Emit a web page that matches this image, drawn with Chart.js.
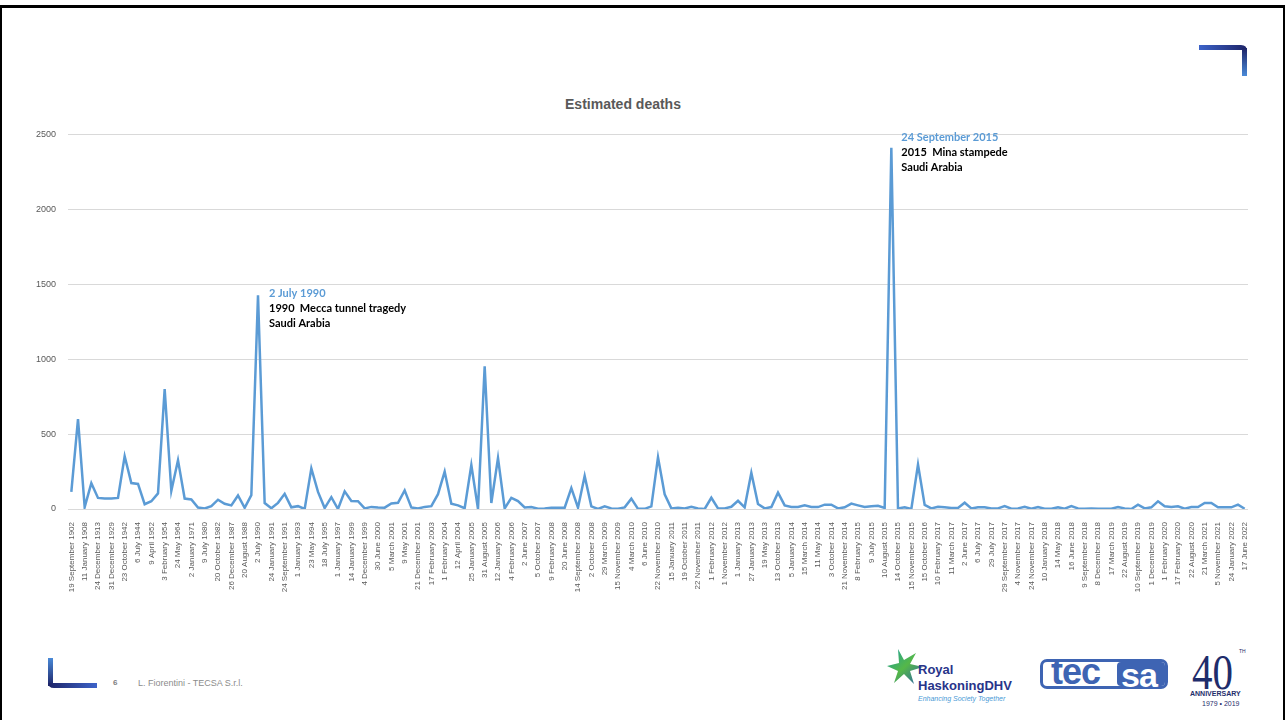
<!DOCTYPE html>
<html>
<head>
<meta charset="utf-8">
<title>Estimated deaths</title>
<script src="https://cdn.jsdelivr.net/npm/chart.js@4.4.1/dist/chart.umd.min.js"></script>
<style>
  html, body { margin: 0; padding: 0; background: #fff; }
  #slide {
    position: relative; width: 1285px; height: 720px; overflow: hidden;
    background: #fff; font-family: "Liberation Sans", Arial, sans-serif;
  }
  #frame {
    position: absolute; left: 0; top: 5px; width: 1285px; height: 720px;
    border-top: 3px solid #000; border-left: 2px solid #000; border-right: 2px solid #000;
    box-sizing: border-box;
  }
  #chartBox { position: absolute; left: 0; top: 117px; width: 1285px; height: 493px; }
  #title {
    position: absolute; left: 0; top: 96px; width: 1246px; text-align: center;
    font: bold 14px "Liberation Sans", Arial, sans-serif; color: #595959;
  }
  .abs { position: absolute; white-space: nowrap; }
  #pageNo { left: 113px; top: 678px; font: bold 8px "Liberation Sans", Arial, sans-serif; color: #808080; }
  #author { left: 138px; top: 678px; font: 9px "Liberation Sans Narrow", "Liberation Sans", Arial, sans-serif; color: #8c8c8c; }
  #rhRoyal { left: 918px; top: 662px; font: bold 13px "Liberation Sans Narrow", "Liberation Sans", sans-serif; color: #28348a; }
  #rhName { left: 918px; top: 678px; font: bold 13px "Liberation Sans Narrow", "Liberation Sans", sans-serif; color: #28348a; }
  #rhTag { left: 918px; top: 695px; font: italic 7px "Liberation Sans", sans-serif; color: #4a9ad6; }
  #tecsa {
    left: 1040px; top: 659px; width: 128px; height: 30px; border: 3px solid #3e64b3;
    border-radius: 7px; box-sizing: border-box;
  }
  #tecWord {
    left: 1051px; top: 651px; font: bold 36px "Liberation Sans Narrow", "Liberation Sans", sans-serif;
    color: #3e64b3; letter-spacing: -1px;
  }
  #saBox {
    left: 1117px; top: 662px; width: 48px; height: 24px; background: #3e64b3; border-radius: 4px;
  }
  #saWord {
    left: 1121px; top: 656px; font: bold 34px "Liberation Sans Narrow", "Liberation Sans", sans-serif;
    color: #fff; letter-spacing: -1px;
  }
  #forty {
    left: 1192px; top: 643px; font: 50px "Liberation Serif", serif; color: #1f2d6b;
    transform: scaleX(0.82); transform-origin: left top;
  }
  #th { left: 1239px; top: 648px; font: 5px "Liberation Sans", sans-serif; color: #1f2d6b; }
  #anniv { left: 1190px; top: 690px; font: bold 7px "Liberation Sans Narrow", "Liberation Sans", sans-serif; color: #1f2d6b; }
  #years { left: 1202px; top: 700px; font: 7px "Liberation Sans Narrow", "Liberation Sans", sans-serif; color: #1f2d6b; }
</style>
</head>
<body>
<div id="slide">
  <div id="frame"></div>

  <!-- corner brackets -->
  <svg class="abs" style="left:1196px; top:42px" width="56" height="38">
    <defs>
      <linearGradient id="trH" x1="0" y1="0" x2="1" y2="0">
        <stop offset="0" stop-color="#3d63c9"/><stop offset="1" stop-color="#1d2468"/>
      </linearGradient>
      <linearGradient id="trV" x1="0" y1="0" x2="0" y2="1">
        <stop offset="0" stop-color="#1d2468"/><stop offset="1" stop-color="#4a8ad8"/>
      </linearGradient>
    </defs>
    <path d="M3 3 H45 Q51 3 51 9 V8 H46 V8 H3 Z" fill="url(#trH)"/>
    <rect x="46" y="6" width="5" height="28" fill="url(#trV)"/>
  </svg>
  <svg class="abs" style="left:45px; top:655px" width="56" height="38">
    <defs>
      <linearGradient id="blV" x1="0" y1="0" x2="0" y2="1">
        <stop offset="0" stop-color="#4a8ad8"/><stop offset="1" stop-color="#1d2468"/>
      </linearGradient>
      <linearGradient id="blH" x1="0" y1="0" x2="1" y2="0">
        <stop offset="0" stop-color="#1d2468"/><stop offset="1" stop-color="#3d63c9"/>
      </linearGradient>
    </defs>
    <rect x="3" y="3" width="5" height="28" fill="url(#blV)"/>
    <path d="M3 28 H52 V33 H9 Q3 33 3 27 Z" fill="url(#blH)"/>
  </svg>

  <div id="title">Estimated deaths</div>
  <div id="chartBox"><canvas id="chart" width="1285" height="493"></canvas></div>

  <div id="pageNo" class="abs">6</div>
  <div id="author" class="abs">L. Fiorentini - TECSA S.r.l.</div>

  <!-- partner logos -->
  <svg class="abs" style="left:886px; top:647px" width="40" height="40">
    <defs>
      <linearGradient id="star" x1="0" y1="0" x2="1" y2="1">
        <stop offset="0" stop-color="#1b9fa0"/><stop offset="0.5" stop-color="#55b848"/><stop offset="1" stop-color="#2a5db0"/>
      </linearGradient>
    </defs>
    <path d="M12 2 L18 13 L30 6 L24 17 L37 20 L24 24 L28 37 L18 27 L8 36 L12 24 L1 19 L13 16 Z" fill="url(#star)"/>
  </svg>
  <div id="rhRoyal" class="abs">Royal</div>
  <div id="rhName" class="abs">HaskoningDHV</div>
  <div id="rhTag" class="abs">Enhancing Society Together</div>

  <div id="tecsa" class="abs"></div>
  <div id="saBox" class="abs"></div>
  <div id="tecWord" class="abs">tec</div>
  <div id="saWord" class="abs">sa</div>

  <div id="forty" class="abs">40</div>
  <div id="th" class="abs">TH</div>
  <div id="anniv" class="abs">ANNIVERSARY</div>
  <div id="years" class="abs">1979 • 2019</div>
</div>

<script>
// every other event date is printed under the axis
const tickDates = [
  "19 September 1902", "11 January 1908", "24 December 1913", "31 December 1929",
  "23 October 1942", "6 July 1944", "9 April 1952", "3 February 1954", "24 May 1964",
  "2 January 1971", "9 July 1980", "20 October 1982", "26 December 1987", "20 August 1988",
  "2 July 1990", "24 January 1991", "24 September 1991", "1 January 1993", "23 May 1994",
  "18 July 1995", "1 January 1997", "14 January 1999", "4 December 1999", "30 June 2000",
  "5 March 2001", "9 May 2001", "21 December 2001", "17 February 2003", "1 February 2004",
  "12 April 2004", "25 January 2005", "31 August 2005", "12 January 2006", "4 February 2006",
  "2 June 2007", "5 October 2007", "9 February 2008", "20 June 2008", "14 September 2008",
  "2 October 2008", "29 March 2009", "15 November 2009", "4 March 2010", "6 June 2010",
  "22 November 2010", "15 January 2011", "19 October 2011", "22 November 2011",
  "1 February 2012", "1 November 2012", "1 January 2013", "27 January 2013", "19 May 2013",
  "13 October 2013", "5 January 2014", "15 March 2014", "11 May 2014", "3 October 2014",
  "21 November 2014", "8 February 2015", "9 July 2015", "10 August 2015", "14 October 2015",
  "15 November 2015", "15 October 2016", "10 February 2017", "11 March 2017", "2 June 2017",
  "6 July 2017", "29 July 2017", "29 September 2017", "4 November 2017", "24 November 2017",
  "10 January 2018", "14 May 2018", "16 June 2018", "9 September 2018", "8 December 2018",
  "17 March 2019", "22 August 2019", "10 September 2019", "1 December 2019",
  "1 February 2020", "17 February 2020", "22 August 2020", "21 March 2021",
  "5 November 2021", "24 January 2022", "17 June 2022"
];

// dates known for points that have no printed tick
const otherDates = { 123: "24 September 2015" };

const deaths = [
  115, 600, 12, 172, 74, 70, 70, 74, 352, 173,
  167, 32, 52, 104, 800, 122, 326, 70, 64, 10,
  3, 19, 62, 35, 24, 90, 8, 93, 1426, 40,
  5, 41, 101, 11, 19, 0, 271, 114, 6, 79,
  0, 118, 53, 52, 4, 14, 10, 9, 37, 41,
  124, 10, 3, 14, 19, 99, 250, 35, 24, 5,
  293, 0, 953, 40, 340, 4, 75, 53, 10, 13,
  2, 3, 9, 9, 9, 140, 9, 220, 18, 0,
  18, 4, 2, 11, 69, 1, 1, 18, 345, 98,
  4, 9, 4, 14, 4, 0, 75, 4, 4, 15,
  55, 11, 242, 33, 4, 13, 109, 24, 13, 13,
  24, 13, 13, 29, 29, 4, 11, 36, 24, 13,
  18, 22, 7, 2411, 4, 11, 0, 297, 27, 4,
  15, 11, 7, 7, 42, 4, 11, 11, 4, 4,
  20, 2, 4, 15, 2, 13, 2, 2, 11, 2,
  20, 4, 2, 4, 1, 1, 2, 13, 4, 0,
  29, 4, 11, 51, 18, 13, 18, 2, 13, 13,
  40, 40, 11, 11, 11, 29, 2
];

const yTicks = [0, 500, 1000, 1500, 2000, 2500];

const notes = [
  { index: 28, date: "2 July 1990", lines: ["1990  Mecca tunnel tragedy", "Saudi Arabia"] },
  { index: 123, date: "24 September 2015", lines: ["2015  Mina stampede", "Saudi Arabia"] }
];
// where each note sits relative to its point
const noteOffsets = [ { dx: 11, dy: -2 }, { dx: 10, dy: -10 } ];

const categories = deaths.map((_, i) =>
  i % 2 === 0 ? tickDates[i / 2] : (otherDates[i] || "")
);

const blue = "#5b9bd5";

const notePlugin = {
  id: "notes",
  afterDatasetsDraw(chart) {
    const { ctx, scales } = chart;
    ctx.save();
    ctx.textAlign = "left";
    ctx.textBaseline = "middle";
    notes.forEach((note, n) => {
      const x = scales.x.getPixelForValue(note.index) + noteOffsets[n].dx;
      const y = scales.y.getPixelForValue(deaths[note.index]) + noteOffsets[n].dy;
      ctx.font = "bold 11px Lato, 'Liberation Sans', sans-serif";
      ctx.fillStyle = blue;
      ctx.fillText(note.date, x, y);
      ctx.fillStyle = "#000";
      note.lines.forEach((line, k) => ctx.fillText(line, x, y + 15 * (k + 1)));
    });
    ctx.restore();
  }
};

new Chart(document.getElementById("chart"), {
  type: "line",
  data: {
    labels: categories,
    datasets: [
      {
        label: "Estimated deaths",
        data: deaths,
        borderColor: blue,
        borderWidth: 2.5,
        pointRadius: 0,
        tension: 0,
        fill: false,
      },
    ],
  },
  options: {
    responsive: false,
    animation: false,
    layout: { padding: { left: 10, right: 37, top: 0, bottom: 6 } },
    plugins: {
      legend: { display: false },
      title: { display: false },
      tooltip: { enabled: false },
    },
    scales: {
      x: {
        type: "category",
        offset: true,
        grid: { display: false },
        border: { display: false },
        afterFit: (scale) => { scale.height = 95; },
        ticks: {
          autoSkip: false,
          minRotation: 90,
          maxRotation: 90,
          padding: 5,
          color: "#595959",
          font: { family: "'Liberation Sans', Arial, sans-serif", size: 8 },
          callback: (value, index) => (index % 2 === 0 ? categories[index] : ""),
        },
      },
      y: {
        min: 0,
        max: 2500,
        afterFit: (scale) => { scale.width = 58; },
        afterBuildTicks: (scale) => { scale.ticks = yTicks.map((v) => ({ value: v })); },
        grid: { color: "#d9d9d9", lineWidth: 1, drawTicks: false },
        border: { display: false },
        ticks: {
          padding: 12,
          color: "#595959",
          font: { family: "'Liberation Sans', Arial, sans-serif", size: 9 },
          callback: (value) => String(value),
        },
      },
    },
  },
  plugins: [notePlugin],
});
</script>
</body>
</html>
